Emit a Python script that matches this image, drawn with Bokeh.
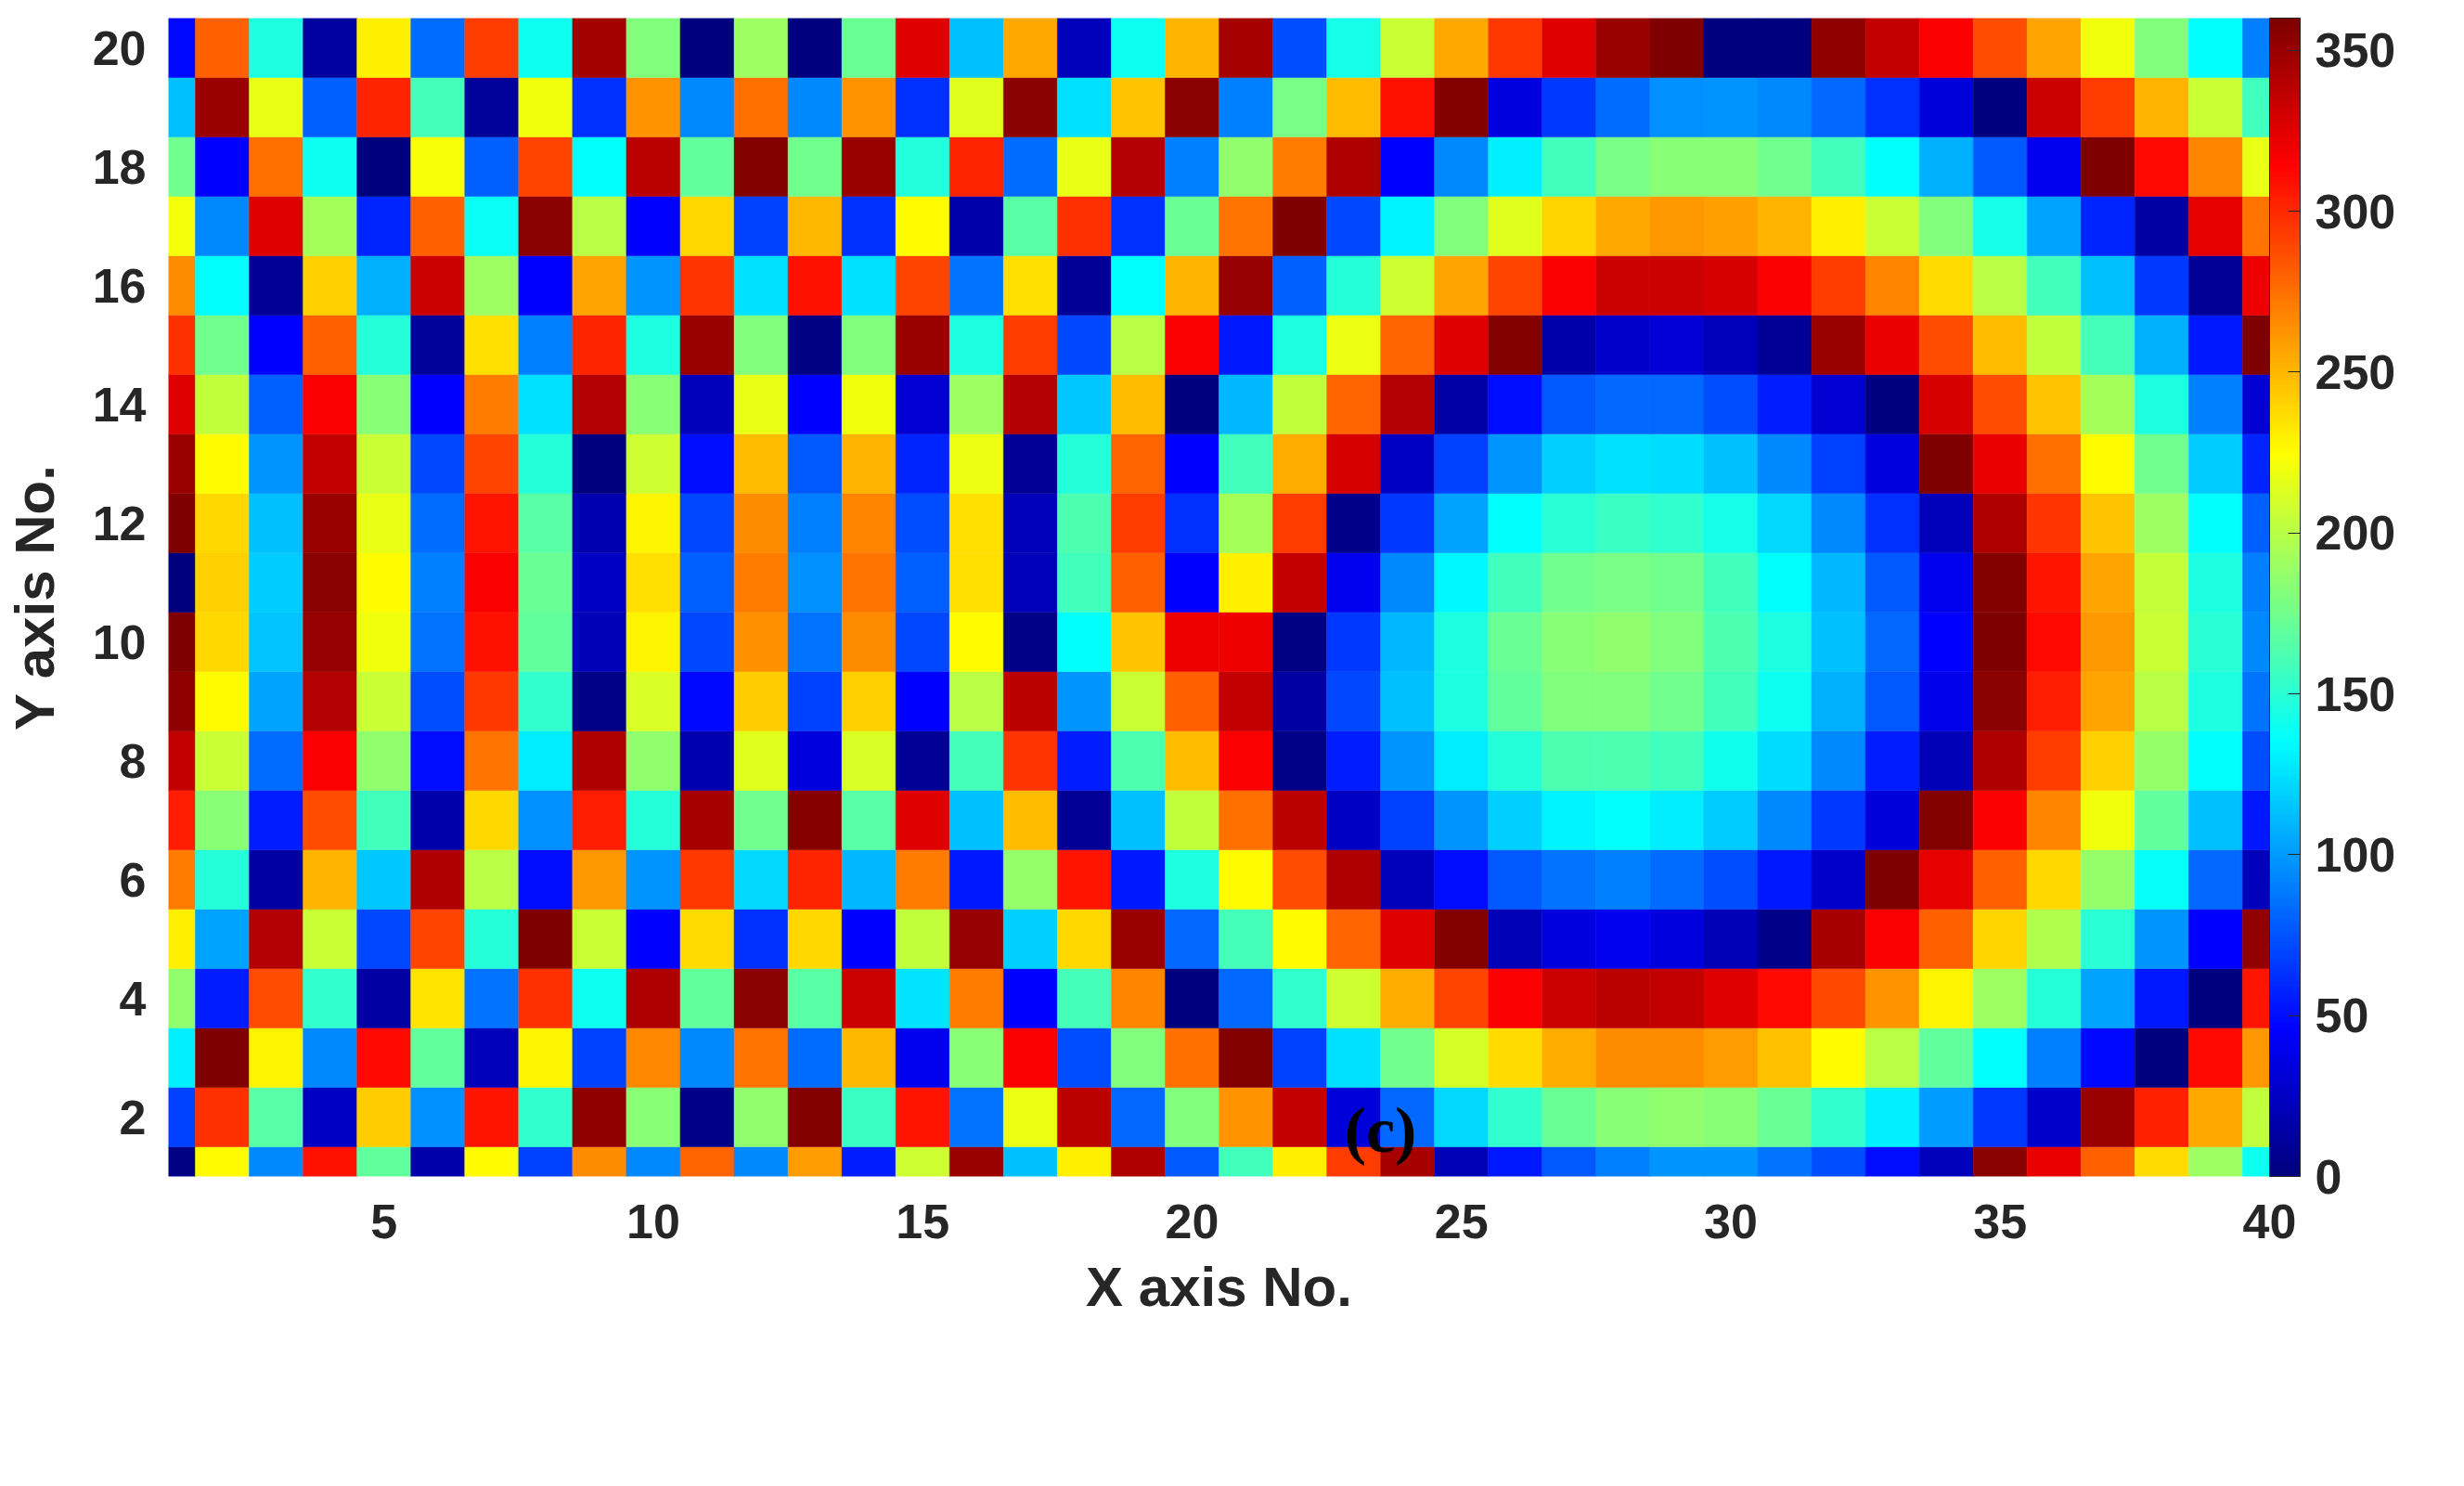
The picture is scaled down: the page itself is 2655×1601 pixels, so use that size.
import numpy as np
from bokeh.embed import file_html
from bokeh.models import ColorBar, ColumnDataSource, FixedTicker, Label, LinearColorMapper, Range1d
from bokeh.plotting import figure
from bokeh.resources import INLINE

x_no = list(range(1, 41))
x_ticks = [5, 10, 15, 20, 25, 30, 35, 40]
y_ticks = [2, 4, 6, 8, 10, 12, 14, 16, 18, 20]
cbar_ticks = [0, 50, 100, 150, 200, 250, 300, 350]

# phase per element, one list per Y number
row_20 = [48, 281, 146, 12, 230, 84, 293, 140, 346, 180, 1, 191, 1, 172, 326, 113, 255, 22, 140, 251, 345, 73, 143, 206, 255, 294, 326, 349, 360, 0, 1, 354, 336, 315, 287, 256, 220, 180, 135, 90]
row_19 = [113, 349, 217, 79, 301, 160, 11, 220, 62, 262, 93, 275, 93, 262, 62, 214, 355, 124, 245, 355, 90, 178, 248, 308, 358, 35, 65, 84, 96, 98, 93, 82, 62, 33, 1, 332, 293, 251, 206, 158]
row_18 = [175, 45, 275, 140, 1, 223, 79, 290, 135, 338, 169, 358, 175, 349, 147, 301, 84, 217, 341, 90, 186, 270, 343, 45, 93, 130, 158, 178, 183, 183, 175, 158, 135, 107, 76, 40, 360, 312, 268, 217]
row_17 = [221, 93, 326, 194, 59, 281, 138, 355, 200, 45, 239, 68, 249, 62, 225, 16, 166, 298, 62, 172, 273, 360, 71, 131, 180, 215, 240, 255, 261, 258, 251, 230, 206, 180, 143, 104, 59, 14, 323, 273]
row_16 = [265, 135, 9, 241, 107, 332, 191, 45, 257, 98, 296, 124, 309, 124, 290, 87, 236, 9, 135, 251, 351, 79, 149, 208, 256, 291, 315, 333, 333, 328, 315, 293, 268, 237, 200, 158, 113, 65, 9, 320]
row_15 = [298, 175, 45, 281, 149, 11, 236, 90, 301, 146, 349, 180, 2, 180, 349, 146, 293, 71, 200, 315, 54, 146, 218, 279, 326, 358, 16, 28, 32, 22, 9, 349, 322, 287, 248, 203, 160, 107, 54, 360]
row_14 = [326, 203, 79, 315, 183, 45, 270, 124, 341, 183, 22, 217, 45, 220, 30, 191, 341, 116, 248, 1, 110, 203, 279, 341, 15, 50, 76, 82, 82, 73, 56, 30, 1, 328, 287, 245, 194, 145, 90, 30]
row_13 = [349, 225, 98, 335, 206, 71, 291, 149, 0, 208, 50, 248, 76, 251, 59, 219, 9, 149, 279, 45, 158, 254, 328, 25, 68, 98, 119, 124, 123, 113, 93, 68, 35, 360, 322, 275, 225, 175, 117, 58]
row_12 = [360, 239, 113, 349, 217, 84, 307, 166, 18, 228, 71, 265, 90, 268, 73, 236, 22, 163, 293, 62, 194, 293, 5, 65, 104, 135, 150, 155, 153, 143, 121, 93, 62, 22, 343, 296, 245, 191, 135, 79]
row_11 = [1, 241, 117, 355, 225, 90, 315, 172, 25, 236, 79, 270, 96, 273, 79, 236, 22, 158, 281, 45, 230, 335, 40, 93, 133, 158, 175, 178, 175, 158, 135, 110, 76, 40, 358, 307, 256, 204, 146, 90]
row_10 = [360, 239, 115, 351, 220, 87, 309, 169, 20, 228, 71, 264, 87, 265, 71, 225, 3, 135, 245, 320, 320, 2, 65, 110, 146, 172, 183, 186, 180, 163, 146, 113, 82, 45, 360, 311, 261, 206, 150, 93]
row_09 = [353, 225, 104, 341, 206, 73, 294, 152, 3, 211, 48, 243, 68, 241, 45, 200, 338, 98, 206, 281, 335, 14, 71, 113, 146, 169, 180, 180, 175, 158, 140, 107, 76, 38, 355, 305, 256, 200, 146, 87]
row_08 = [335, 206, 84, 315, 186, 50, 273, 129, 342, 186, 18, 214, 35, 211, 9, 160, 296, 56, 163, 248, 315, 4, 56, 98, 128, 149, 163, 163, 158, 141, 123, 93, 56, 20, 342, 293, 241, 188, 135, 73]
row_07 = [304, 183, 56, 287, 158, 16, 239, 96, 304, 149, 345, 175, 357, 166, 326, 113, 248, 9, 113, 203, 275, 338, 25, 68, 98, 119, 131, 135, 128, 117, 93, 65, 33, 358, 315, 268, 220, 169, 113, 54]
row_06 = [270, 149, 14, 251, 116, 342, 200, 50, 261, 98, 294, 121, 301, 110, 270, 54, 188, 307, 54, 146, 225, 287, 342, 22, 50, 76, 87, 90, 84, 73, 54, 28, 360, 323, 281, 239, 188, 137, 82, 22]
row_05 = [230, 104, 341, 206, 71, 291, 149, 360, 206, 45, 237, 62, 239, 45, 203, 351, 119, 239, 349, 82, 160, 225, 279, 326, 358, 20, 35, 40, 35, 20, 5, 345, 315, 280, 240, 197, 150, 98, 45, 352]
row_04 = [186, 56, 287, 152, 14, 234, 87, 298, 140, 342, 169, 355, 166, 332, 126, 270, 45, 160, 268, 1, 82, 152, 208, 254, 291, 315, 332, 338, 336, 326, 311, 289, 262, 228, 191, 149, 104, 54, 1, 307]
row_03 = [130, 360, 228, 93, 312, 169, 22, 228, 68, 266, 93, 273, 84, 249, 40, 183, 315, 73, 180, 275, 358, 68, 124, 175, 210, 237, 254, 265, 265, 259, 247, 225, 200, 169, 135, 90, 48, 0, 311, 261]
row_02 = [68, 298, 166, 25, 243, 96, 307, 152, 353, 183, 5, 186, 358, 155, 307, 87, 218, 338, 82, 180, 262, 335, 33, 82, 121, 152, 172, 183, 186, 183, 172, 152, 130, 100, 65, 28, 349, 303, 255, 203]
row_01 = [2, 225, 93, 309, 169, 16, 225, 68, 265, 93, 279, 93, 259, 56, 208, 349, 113, 230, 342, 76, 158, 230, 293, 345, 21, 54, 76, 90, 98, 98, 87, 73, 50, 22, 355, 322, 281, 237, 191, 140]

rows = [
    row_01, row_02, row_03, row_04, row_05, row_06, row_07, row_08, row_09, row_10,
    row_11, row_12, row_13, row_14, row_15, row_16, row_17, row_18, row_19, row_20,
]

FONT = "Liberation Sans"
INK = "#262626"


def jet_palette(n=256):
    t = np.linspace(0, 1, n)
    r = np.clip(np.minimum(4 * t - 1.5, -4 * t + 4.5), 0, 1)
    g = np.clip(np.minimum(4 * t - 0.5, -4 * t + 3.5), 0, 1)
    b = np.clip(np.minimum(4 * t + 0.5, -4 * t + 2.5), 0, 1)
    return ["#%02x%02x%02x" % (int(a * 255), int(c * 255), int(d * 255)) for a, c, d in zip(r, g, b)]


mapper = LinearColorMapper(palette=jet_palette(), low=0, high=360)

cells = pd_x, pd_y, pd_v = [], [], []
for y_no, row in enumerate(rows, start=1):
    for x, v in zip(x_no, row):
        pd_x.append(x)
        pd_y.append(y_no)
        pd_v.append(v)
source = ColumnDataSource(dict(x=pd_x, y=pd_y, phase=pd_v))

p = figure(
    frame_width=2264,
    frame_height=1248,
    min_border_left=166,
    min_border_top=19,
    min_border_right=0,
    min_border_bottom=310,
    x_range=Range1d(1, 40),
    y_range=Range1d(1, 20.5),
    toolbar_location=None,
    output_backend="svg",
)
p.rect(
    x="x",
    y="y",
    width=1,
    height=1,
    source=source,
    fill_color={"field": "phase", "transform": mapper},
    line_color={"field": "phase", "transform": mapper},
    line_width=0.5,
)

p.grid.visible = False
p.outline_line_color = None
p.xaxis.ticker = FixedTicker(ticks=x_ticks)
p.yaxis.ticker = FixedTicker(ticks=y_ticks)
p.xaxis.axis_label = "X axis No."
p.yaxis.axis_label = "Y axis No."
for axis in [p.xaxis, p.yaxis]:
    axis.axis_line_color = None
    axis.major_tick_line_color = None
    axis.minor_tick_line_color = None
    axis.major_label_text_font = FONT
    axis.major_label_text_font_style = "bold"
    axis.major_label_text_font_size = "52px"
    axis.major_label_text_color = INK
    axis.axis_label_text_font = FONT
    axis.axis_label_text_font_style = "bold"
    axis.axis_label_text_font_size = "60px"
    axis.axis_label_text_color = INK
p.xaxis.major_label_standoff = 24
p.yaxis.major_label_standoff = 18
p.xaxis.axis_label_standoff = 16
p.yaxis.axis_label_standoff = 26
p.yaxis.major_label_orientation = "horizontal"

bar = ColorBar(
    color_mapper=mapper,
    ticker=FixedTicker(ticks=cbar_ticks),
    width=33,
    height=1248,
    padding=0,
    margin=47,
    label_standoff=16,
    major_label_text_font=FONT,
    major_label_text_font_style="bold",
    major_label_text_font_size="52px",
    major_label_text_color=INK,
    major_label_text_align="left",
    major_tick_in=13,
    major_tick_out=0,
    major_tick_line_color=INK,
    minor_tick_line_color=None,
    bar_line_color=INK,
    bar_line_width=1,
)
p.add_layout(bar, "right")

p.add_layout(
    Label(
        x=1306,
        y=50,
        x_units="screen",
        y_units="screen",
        text="(c)",
        text_font="Liberation Serif",
        text_font_style="bold",
        text_font_size="70px",
        text_color="#000000",
        text_align="center",
        text_baseline="middle",
    )
)

open("out.html", "w").write(file_html(p, INLINE))
